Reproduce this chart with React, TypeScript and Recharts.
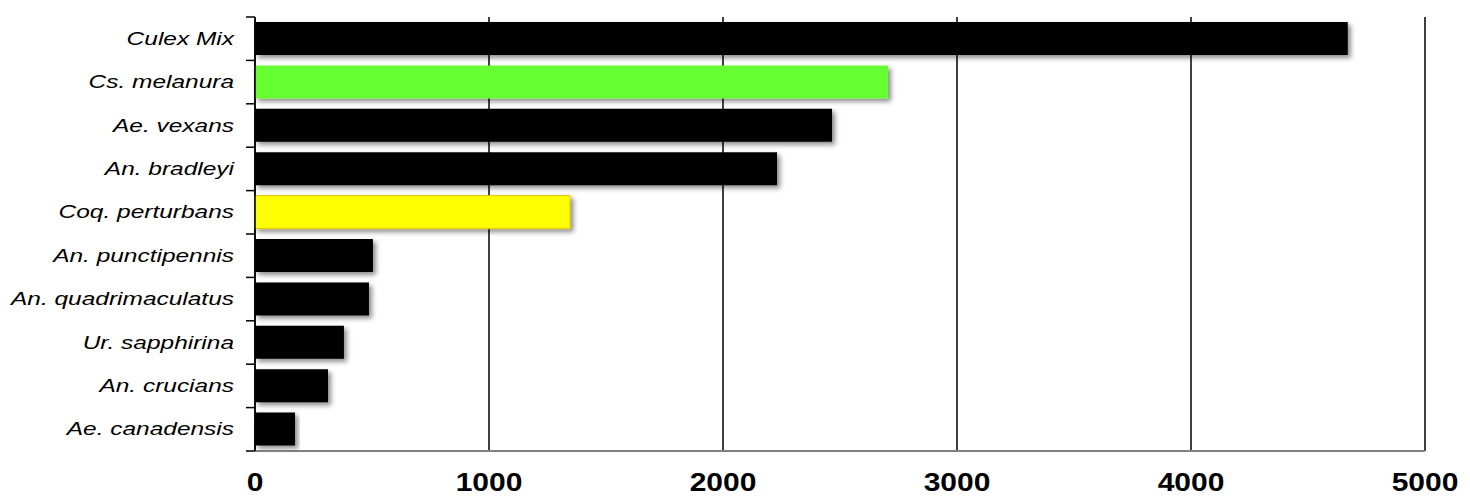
import React from "react";
import { BarChart, Bar, XAxis, YAxis, CartesianGrid, Cell } from "recharts";

const species = [
  "Culex Mix",
  "Cs. melanura",
  "Ae. vexans",
  "An. bradleyi",
  "Coq. perturbans",
  "An. punctipennis",
  "An. quadrimaculatus",
  "Ur. sapphirina",
  "An. crucians",
  "Ae. canadensis",
];
const counts = [4670, 2705, 2466, 2231, 1346, 504, 487, 380, 312, 171];
const barColors = ["#000000", "#66ff33", "#000000", "#000000", "#ffff00", "#000000", "#000000", "#000000", "#000000", "#000000"];
const xTicks = [0, 1000, 2000, 3000, 4000, 5000];

const data = species.map((name, i) => ({ name, count: counts[i] }));

const PLOT_H = 434;
const BAND = PLOT_H / species.length;
const AXIS_X = 255;

const SpeciesTick = (props: any) => {
  const { y, payload } = props;
  return (
    <g>
      <line x1={AXIS_X - 9} x2={AXIS_X} y1={y - BAND / 2} y2={y - BAND / 2} stroke="#000" strokeWidth={1.5} />
      {payload.index === species.length - 1 && (
        <line x1={AXIS_X - 9} x2={AXIS_X} y1={y + BAND / 2} y2={y + BAND / 2} stroke="#000" strokeWidth={1.5} />
      )}
      <text
        transform={`translate(${AXIS_X - 21},${y + 6}) scale(1.36,1)`}
        textAnchor="end"
        fontStyle="italic"
        fontSize={18}
        fill="#000"
      >
        {payload.value}
      </text>
    </g>
  );
};

const ValueTick = (props: any) => {
  const { x, y, payload } = props;
  return (
    <text
      transform={`translate(${x},${y + 34}) scale(1.2,1)`}
      textAnchor="middle"
      fontWeight="bold"
      fontSize={25}
      fill="#000"
    >
      {payload.value}
    </text>
  );
};

export default function App() {
  return (
    <div style={{ position: "absolute", left: 0, top: 0, fontFamily: "'Liberation Sans', Arial, sans-serif" }}>
      <BarChart
        width={1470}
        height={504}
        data={data}
        layout="vertical"
        barCategoryGap={5}
        margin={{ top: 8, right: 45, left: 0, bottom: 0 }}
      >
        <defs>
          <filter id="shadow" x="-5%" y="-20%" width="115%" height="150%">
            <feDropShadow dx={3} dy={3} stdDeviation={2.5} floodColor="#000" floodOpacity={0.45} />
          </filter>
        </defs>
        <CartesianGrid horizontal={false} stroke="#000" strokeWidth={1.5} />
        <XAxis
          xAxisId="top"
          orientation="top"
          type="number"
          domain={[0, 5000]}
          ticks={xTicks}
          height={9}
          axisLine={false}
          tickSize={9}
          tickLine={{ stroke: "#000", strokeWidth: 1.5 }}
          tick={false}
        />
        <XAxis
          type="number"
          domain={[0, 5000]}
          ticks={xTicks}
          height={53}
          axisLine={{ stroke: "#808080", strokeWidth: 2 }}
          tickLine={false}
          tick={<ValueTick />}
          tickMargin={0}
        />
        <YAxis
          type="category"
          dataKey="name"
          width={255}
          axisLine={{ stroke: "#000", strokeWidth: 1.5 }}
          tickLine={false}
          tick={<SpeciesTick />}
          interval={0}
        />
        <Bar dataKey="count" isAnimationActive={false} filter="url(#shadow)">
          {data.map((d, i) => (
            <Cell key={d.name} fill={barColors[i]} stroke={i === 4 ? "#e6c200" : "none"} />
          ))}
        </Bar>
      </BarChart>
    </div>
  );
}
